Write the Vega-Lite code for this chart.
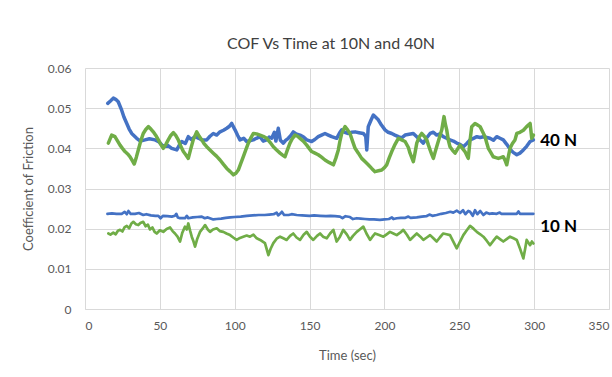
{
  "$schema": "https://vega.github.io/schema/vega-lite/v6.json",
  "width": 524,
  "height": 241,
  "autosize": {"type": "none"},
  "padding": {"left": 85, "top": 68, "right": 3, "bottom": 68},
  "background": "white",
  "title": {"text": "COF Vs Time at 10N and 40N", "font": "Lato", "fontSize": 16, "fontWeight": "normal", "color": "#404040", "anchor": "middle", "dx": -16, "offset": 10},
  "config": {
    "view": {"stroke": null},
    "axis": {"labelFont": "Lato", "titleFont": "Lato", "labelColor": "#595959", "titleColor": "#595959", "labelFontSize": 12, "titleFontSize": 13, "titleFontWeight": "normal", "gridColor": "#d9d9d9", "gridWidth": 1, "ticks": false}
  },
  "datasets": {
    "series": [
      {"sample":"A","load":"40 N","time":15.2,"cof":0.0512},{"sample":"A","load":"40 N","time":17,"cof":0.0518},{"sample":"A","load":"40 N","time":18.9,"cof":0.0525},{"sample":"A","load":"40 N","time":20.5,"cof":0.0522},{"sample":"A","load":"40 N","time":22.2,"cof":0.0516},{"sample":"A","load":"40 N","time":24.5,"cof":0.0495},{"sample":"A","load":"40 N","time":26,"cof":0.0478},{"sample":"A","load":"40 N","time":27.9,"cof":0.0462},{"sample":"A","load":"40 N","time":29.5,"cof":0.0448},{"sample":"A","load":"40 N","time":31.2,"cof":0.0437},{"sample":"A","load":"40 N","time":34.5,"cof":0.0425},{"sample":"A","load":"40 N","time":37,"cof":0.0418},{"sample":"A","load":"40 N","time":40.1,"cof":0.0421},{"sample":"A","load":"40 N","time":43,"cof":0.0424},{"sample":"A","load":"40 N","time":46.8,"cof":0.0421},{"sample":"A","load":"40 N","time":49.5,"cof":0.0416},{"sample":"A","load":"40 N","time":52.3,"cof":0.0404},{"sample":"A","load":"40 N","time":55,"cof":0.0408},{"sample":"A","load":"40 N","time":57.9,"cof":0.04},{"sample":"A","load":"40 N","time":61.3,"cof":0.0396},{"sample":"A","load":"40 N","time":63,"cof":0.0408},{"sample":"A","load":"40 N","time":64.6,"cof":0.0417},{"sample":"A","load":"40 N","time":67,"cof":0.0412},{"sample":"A","load":"40 N","time":69,"cof":0.0429},{"sample":"A","load":"40 N","time":71,"cof":0.0422},{"sample":"A","load":"40 N","time":73.5,"cof":0.0429},{"sample":"A","load":"40 N","time":76,"cof":0.0425},{"sample":"A","load":"40 N","time":78,"cof":0.0421},{"sample":"A","load":"40 N","time":81.3,"cof":0.0421},{"sample":"A","load":"40 N","time":83.5,"cof":0.043},{"sample":"A","load":"40 N","time":85.7,"cof":0.0437},{"sample":"A","load":"40 N","time":88,"cof":0.0433},{"sample":"A","load":"40 N","time":90.2,"cof":0.0441},{"sample":"A","load":"40 N","time":92.5,"cof":0.0445},{"sample":"A","load":"40 N","time":94.7,"cof":0.045},{"sample":"A","load":"40 N","time":96.5,"cof":0.0455},{"sample":"A","load":"40 N","time":98,"cof":0.0462},{"sample":"A","load":"40 N","time":100.2,"cof":0.0446},{"sample":"A","load":"40 N","time":102,"cof":0.0432},{"sample":"A","load":"40 N","time":103.5,"cof":0.0421},{"sample":"A","load":"40 N","time":106,"cof":0.0425},{"sample":"A","load":"40 N","time":108,"cof":0.0417},{"sample":"A","load":"40 N","time":110,"cof":0.0419},{"sample":"A","load":"40 N","time":112.4,"cof":0.0421},{"sample":"A","load":"40 N","time":114.5,"cof":0.0425},{"sample":"A","load":"40 N","time":116.9,"cof":0.0429},{"sample":"A","load":"40 N","time":119,"cof":0.0418},{"sample":"A","load":"40 N","time":121.4,"cof":0.0421},{"sample":"A","load":"40 N","time":123,"cof":0.0428},{"sample":"A","load":"40 N","time":124.7,"cof":0.0425},{"sample":"A","load":"40 N","time":126.5,"cof":0.044},{"sample":"A","load":"40 N","time":127.5,"cof":0.0418},{"sample":"A","load":"40 N","time":129.1,"cof":0.045},{"sample":"A","load":"40 N","time":130.5,"cof":0.042},{"sample":"A","load":"40 N","time":132.5,"cof":0.0413},{"sample":"A","load":"40 N","time":134,"cof":0.042},{"sample":"A","load":"40 N","time":135.8,"cof":0.0425},{"sample":"A","load":"40 N","time":137.5,"cof":0.0432},{"sample":"A","load":"40 N","time":139.1,"cof":0.0441},{"sample":"A","load":"40 N","time":141,"cof":0.0436},{"sample":"A","load":"40 N","time":143.6,"cof":0.0433},{"sample":"A","load":"40 N","time":146,"cof":0.0428},{"sample":"A","load":"40 N","time":148.1,"cof":0.0421},{"sample":"A","load":"40 N","time":151.4,"cof":0.0417},{"sample":"A","load":"40 N","time":153.5,"cof":0.0422},{"sample":"A","load":"40 N","time":155.8,"cof":0.0429},{"sample":"A","load":"40 N","time":158,"cof":0.0433},{"sample":"A","load":"40 N","time":160.3,"cof":0.0437},{"sample":"A","load":"40 N","time":162.5,"cof":0.0433},{"sample":"A","load":"40 N","time":164.8,"cof":0.0429},{"sample":"A","load":"40 N","time":168.1,"cof":0.0425},{"sample":"A","load":"40 N","time":170,"cof":0.0438},{"sample":"A","load":"40 N","time":171.5,"cof":0.0446},{"sample":"A","load":"40 N","time":173.5,"cof":0.044},{"sample":"A","load":"40 N","time":175.9,"cof":0.0437},{"sample":"A","load":"40 N","time":178,"cof":0.044},{"sample":"A","load":"40 N","time":180.4,"cof":0.0441},{"sample":"A","load":"40 N","time":183,"cof":0.0439},{"sample":"A","load":"40 N","time":185.9,"cof":0.0437},{"sample":"A","load":"40 N","time":187.5,"cof":0.043},{"sample":"A","load":"40 N","time":188.2,"cof":0.0396},{"sample":"A","load":"40 N","time":189.2,"cof":0.0454},{"sample":"A","load":"40 N","time":191,"cof":0.047},{"sample":"A","load":"40 N","time":192.6,"cof":0.0483},{"sample":"A","load":"40 N","time":194,"cof":0.0478},{"sample":"A","load":"40 N","time":195.9,"cof":0.0471},{"sample":"A","load":"40 N","time":198,"cof":0.0458},{"sample":"A","load":"40 N","time":200.4,"cof":0.0446},{"sample":"A","load":"40 N","time":202.5,"cof":0.044},{"sample":"A","load":"40 N","time":204.9,"cof":0.0437},{"sample":"A","load":"40 N","time":207,"cof":0.0433},{"sample":"A","load":"40 N","time":209.3,"cof":0.0429},{"sample":"A","load":"40 N","time":211.5,"cof":0.0426},{"sample":"A","load":"40 N","time":213.8,"cof":0.0433},{"sample":"A","load":"40 N","time":216.5,"cof":0.0435},{"sample":"A","load":"40 N","time":219.3,"cof":0.0437},{"sample":"A","load":"40 N","time":221.6,"cof":0.0429},{"sample":"A","load":"40 N","time":224,"cof":0.042},{"sample":"A","load":"40 N","time":226,"cof":0.0413},{"sample":"A","load":"40 N","time":228,"cof":0.0425},{"sample":"A","load":"40 N","time":230.5,"cof":0.0437},{"sample":"A","load":"40 N","time":232.7,"cof":0.044},{"sample":"A","load":"40 N","time":234.9,"cof":0.0433},{"sample":"A","load":"40 N","time":237,"cof":0.0436},{"sample":"A","load":"40 N","time":239.3,"cof":0.0429},{"sample":"A","load":"40 N","time":241.5,"cof":0.0425},{"sample":"A","load":"40 N","time":243.8,"cof":0.0421},{"sample":"A","load":"40 N","time":246,"cof":0.0418},{"sample":"A","load":"40 N","time":248.3,"cof":0.0413},{"sample":"A","load":"40 N","time":250.5,"cof":0.041},{"sample":"A","load":"40 N","time":252.7,"cof":0.0404},{"sample":"A","load":"40 N","time":255,"cof":0.0412},{"sample":"A","load":"40 N","time":257.2,"cof":0.0421},{"sample":"A","load":"40 N","time":259.5,"cof":0.0425},{"sample":"A","load":"40 N","time":261.7,"cof":0.0429},{"sample":"A","load":"40 N","time":264,"cof":0.0427},{"sample":"A","load":"40 N","time":266.1,"cof":0.0429},{"sample":"A","load":"40 N","time":268.3,"cof":0.0427},{"sample":"A","load":"40 N","time":270.5,"cof":0.0425},{"sample":"A","load":"40 N","time":272.8,"cof":0.042},{"sample":"A","load":"40 N","time":275,"cof":0.0429},{"sample":"A","load":"40 N","time":277.2,"cof":0.0425},{"sample":"A","load":"40 N","time":279.4,"cof":0.0421},{"sample":"A","load":"40 N","time":281.7,"cof":0.041},{"sample":"A","load":"40 N","time":283.9,"cof":0.0398},{"sample":"A","load":"40 N","time":286,"cof":0.039},{"sample":"A","load":"40 N","time":288.4,"cof":0.0384},{"sample":"A","load":"40 N","time":290.5,"cof":0.0388},{"sample":"A","load":"40 N","time":292.8,"cof":0.0396},{"sample":"A","load":"40 N","time":295,"cof":0.0405},{"sample":"A","load":"40 N","time":297.3,"cof":0.0417},{"sample":"A","load":"40 N","time":299.5,"cof":0.0421},
      {"sample":"B","load":"40 N","time":15.6,"cof":0.0413},{"sample":"B","load":"40 N","time":17.8,"cof":0.0433},{"sample":"B","load":"40 N","time":20,"cof":0.0429},{"sample":"B","load":"40 N","time":21.5,"cof":0.042},{"sample":"B","load":"40 N","time":23.4,"cof":0.0408},{"sample":"B","load":"40 N","time":25,"cof":0.04},{"sample":"B","load":"40 N","time":26.7,"cof":0.0392},{"sample":"B","load":"40 N","time":28.5,"cof":0.0386},{"sample":"B","load":"40 N","time":30.1,"cof":0.0379},{"sample":"B","load":"40 N","time":31.5,"cof":0.037},{"sample":"B","load":"40 N","time":32.9,"cof":0.0361},{"sample":"B","load":"40 N","time":34.3,"cof":0.0378},{"sample":"B","load":"40 N","time":35.6,"cof":0.0396},{"sample":"B","load":"40 N","time":37.2,"cof":0.0418},{"sample":"B","load":"40 N","time":38.9,"cof":0.0437},{"sample":"B","load":"40 N","time":40.6,"cof":0.0447},{"sample":"B","load":"40 N","time":42.3,"cof":0.0454},{"sample":"B","load":"40 N","time":44,"cof":0.0448},{"sample":"B","load":"40 N","time":45.6,"cof":0.0441},{"sample":"B","load":"40 N","time":47.3,"cof":0.0432},{"sample":"B","load":"40 N","time":49,"cof":0.0421},{"sample":"B","load":"40 N","time":50.6,"cof":0.041},{"sample":"B","load":"40 N","time":52.3,"cof":0.04},{"sample":"B","load":"40 N","time":54,"cof":0.041},{"sample":"B","load":"40 N","time":55.6,"cof":0.0421},{"sample":"B","load":"40 N","time":57.3,"cof":0.0432},{"sample":"B","load":"40 N","time":59,"cof":0.0439},{"sample":"B","load":"40 N","time":60.6,"cof":0.0432},{"sample":"B","load":"40 N","time":62.3,"cof":0.0421},{"sample":"B","load":"40 N","time":64,"cof":0.0405},{"sample":"B","load":"40 N","time":65.7,"cof":0.0392},{"sample":"B","load":"40 N","time":67.3,"cof":0.0384},{"sample":"B","load":"40 N","time":69,"cof":0.0375},{"sample":"B","load":"40 N","time":70.6,"cof":0.0398},{"sample":"B","load":"40 N","time":72.3,"cof":0.0421},{"sample":"B","load":"40 N","time":74.6,"cof":0.0441},{"sample":"B","load":"40 N","time":76.3,"cof":0.043},{"sample":"B","load":"40 N","time":78,"cof":0.0421},{"sample":"B","load":"40 N","time":79.5,"cof":0.0412},{"sample":"B","load":"40 N","time":81.3,"cof":0.0404},{"sample":"B","load":"40 N","time":83.5,"cof":0.0396},{"sample":"B","load":"40 N","time":85.7,"cof":0.0388},{"sample":"B","load":"40 N","time":88,"cof":0.038},{"sample":"B","load":"40 N","time":90.2,"cof":0.0371},{"sample":"B","load":"40 N","time":92.5,"cof":0.036},{"sample":"B","load":"40 N","time":94.7,"cof":0.035},{"sample":"B","load":"40 N","time":97,"cof":0.0342},{"sample":"B","load":"40 N","time":99.1,"cof":0.0334},{"sample":"B","load":"40 N","time":100.8,"cof":0.0338},{"sample":"B","load":"40 N","time":102.4,"cof":0.0346},{"sample":"B","load":"40 N","time":104,"cof":0.0362},{"sample":"B","load":"40 N","time":105.7,"cof":0.0379},{"sample":"B","load":"40 N","time":107.4,"cof":0.0396},{"sample":"B","load":"40 N","time":109.1,"cof":0.0413},{"sample":"B","load":"40 N","time":110.8,"cof":0.0426},{"sample":"B","load":"40 N","time":112.4,"cof":0.0437},{"sample":"B","load":"40 N","time":114.6,"cof":0.0436},{"sample":"B","load":"40 N","time":116.9,"cof":0.0433},{"sample":"B","load":"40 N","time":119,"cof":0.043},{"sample":"B","load":"40 N","time":121.4,"cof":0.0425},{"sample":"B","load":"40 N","time":123.6,"cof":0.0415},{"sample":"B","load":"40 N","time":125.8,"cof":0.0404},{"sample":"B","load":"40 N","time":128,"cof":0.0396},{"sample":"B","load":"40 N","time":130.3,"cof":0.0388},{"sample":"B","load":"40 N","time":132,"cof":0.0383},{"sample":"B","load":"40 N","time":133.6,"cof":0.0379},{"sample":"B","load":"40 N","time":135.2,"cof":0.0396},{"sample":"B","load":"40 N","time":136.9,"cof":0.0413},{"sample":"B","load":"40 N","time":138.6,"cof":0.0425},{"sample":"B","load":"40 N","time":140.3,"cof":0.0433},{"sample":"B","load":"40 N","time":142,"cof":0.043},{"sample":"B","load":"40 N","time":143.6,"cof":0.0425},{"sample":"B","load":"40 N","time":145.8,"cof":0.0418},{"sample":"B","load":"40 N","time":148.1,"cof":0.0408},{"sample":"B","load":"40 N","time":149.7,"cof":0.04},{"sample":"B","load":"40 N","time":151.4,"cof":0.0392},{"sample":"B","load":"40 N","time":153.6,"cof":0.0388},{"sample":"B","load":"40 N","time":155.8,"cof":0.0384},{"sample":"B","load":"40 N","time":158,"cof":0.0378},{"sample":"B","load":"40 N","time":160.3,"cof":0.0371},{"sample":"B","load":"40 N","time":163,"cof":0.0365},{"sample":"B","load":"40 N","time":165.9,"cof":0.0359},{"sample":"B","load":"40 N","time":167.5,"cof":0.0375},{"sample":"B","load":"40 N","time":169.2,"cof":0.0396},{"sample":"B","load":"40 N","time":170.3,"cof":0.0418},{"sample":"B","load":"40 N","time":171.5,"cof":0.0437},{"sample":"B","load":"40 N","time":172.6,"cof":0.0446},{"sample":"B","load":"40 N","time":173.7,"cof":0.0454},{"sample":"B","load":"40 N","time":175.4,"cof":0.0446},{"sample":"B","load":"40 N","time":177,"cof":0.0437},{"sample":"B","load":"40 N","time":178.7,"cof":0.0418},{"sample":"B","load":"40 N","time":180.4,"cof":0.04},{"sample":"B","load":"40 N","time":182.6,"cof":0.0388},{"sample":"B","load":"40 N","time":184.8,"cof":0.0375},{"sample":"B","load":"40 N","time":187,"cof":0.0367},{"sample":"B","load":"40 N","time":189.2,"cof":0.0359},{"sample":"B","load":"40 N","time":191.5,"cof":0.035},{"sample":"B","load":"40 N","time":193.7,"cof":0.0342},{"sample":"B","load":"40 N","time":196,"cof":0.0344},{"sample":"B","load":"40 N","time":198.2,"cof":0.0346},{"sample":"B","load":"40 N","time":200,"cof":0.0352},{"sample":"B","load":"40 N","time":201.5,"cof":0.0359},{"sample":"B","load":"40 N","time":203.2,"cof":0.0376},{"sample":"B","load":"40 N","time":204.9,"cof":0.0392},{"sample":"B","load":"40 N","time":207.1,"cof":0.041},{"sample":"B","load":"40 N","time":209.3,"cof":0.0425},{"sample":"B","load":"40 N","time":211.5,"cof":0.0421},{"sample":"B","load":"40 N","time":213.8,"cof":0.0417},{"sample":"B","load":"40 N","time":216,"cof":0.0402},{"sample":"B","load":"40 N","time":217.1,"cof":0.0388},{"sample":"B","load":"40 N","time":219.3,"cof":0.0367},{"sample":"B","load":"40 N","time":220.5,"cof":0.039},{"sample":"B","load":"40 N","time":221.6,"cof":0.0413},{"sample":"B","load":"40 N","time":223.2,"cof":0.0428},{"sample":"B","load":"40 N","time":224.9,"cof":0.0437},{"sample":"B","load":"40 N","time":226.6,"cof":0.043},{"sample":"B","load":"40 N","time":228.3,"cof":0.0421},{"sample":"B","load":"40 N","time":229.4,"cof":0.0408},{"sample":"B","load":"40 N","time":230.5,"cof":0.0396},{"sample":"B","load":"40 N","time":231.6,"cof":0.0385},{"sample":"B","load":"40 N","time":232.7,"cof":0.0375},{"sample":"B","load":"40 N","time":233.8,"cof":0.039},{"sample":"B","load":"40 N","time":234.9,"cof":0.0404},{"sample":"B","load":"40 N","time":236.6,"cof":0.0425},{"sample":"B","load":"40 N","time":238.3,"cof":0.0446},{"sample":"B","load":"40 N","time":239.8,"cof":0.0479},{"sample":"B","load":"40 N","time":240.7,"cof":0.046},{"sample":"B","load":"40 N","time":241.6,"cof":0.0446},{"sample":"B","load":"40 N","time":242.7,"cof":0.042},{"sample":"B","load":"40 N","time":243.8,"cof":0.0404},{"sample":"B","load":"40 N","time":245.5,"cof":0.0395},{"sample":"B","load":"40 N","time":247.2,"cof":0.0388},{"sample":"B","load":"40 N","time":248.8,"cof":0.0398},{"sample":"B","load":"40 N","time":250.5,"cof":0.0408},{"sample":"B","load":"40 N","time":252.1,"cof":0.04},{"sample":"B","load":"40 N","time":253.8,"cof":0.0392},{"sample":"B","load":"40 N","time":255,"cof":0.0383},{"sample":"B","load":"40 N","time":256,"cof":0.0375},{"sample":"B","load":"40 N","time":257.2,"cof":0.042},{"sample":"B","load":"40 N","time":258.3,"cof":0.0454},{"sample":"B","load":"40 N","time":260.5,"cof":0.0462},{"sample":"B","load":"40 N","time":262.2,"cof":0.0458},{"sample":"B","load":"40 N","time":263.9,"cof":0.0454},{"sample":"B","load":"40 N","time":265.5,"cof":0.0442},{"sample":"B","load":"40 N","time":267.2,"cof":0.0429},{"sample":"B","load":"40 N","time":268.3,"cof":0.0414},{"sample":"B","load":"40 N","time":269.4,"cof":0.04},{"sample":"B","load":"40 N","time":271,"cof":0.039},{"sample":"B","load":"40 N","time":272.7,"cof":0.0379},{"sample":"B","load":"40 N","time":274.4,"cof":0.0377},{"sample":"B","load":"40 N","time":276.1,"cof":0.0375},{"sample":"B","load":"40 N","time":277.7,"cof":0.0377},{"sample":"B","load":"40 N","time":279.4,"cof":0.0379},{"sample":"B","load":"40 N","time":280.6,"cof":0.037},{"sample":"B","load":"40 N","time":281.7,"cof":0.0359},{"sample":"B","load":"40 N","time":282.8,"cof":0.038},{"sample":"B","load":"40 N","time":283.9,"cof":0.04},{"sample":"B","load":"40 N","time":285.5,"cof":0.0412},{"sample":"B","load":"40 N","time":287.2,"cof":0.0421},{"sample":"B","load":"40 N","time":288.4,"cof":0.0437},{"sample":"B","load":"40 N","time":290.5,"cof":0.044},{"sample":"B","load":"40 N","time":292.8,"cof":0.0445},{"sample":"B","load":"40 N","time":295,"cof":0.0454},{"sample":"B","load":"40 N","time":297.3,"cof":0.0462},{"sample":"B","load":"40 N","time":298.4,"cof":0.0425},{"sample":"B","load":"40 N","time":299.5,"cof":0.0433},
      {"sample":"A","load":"10 N","time":15,"cof":0.0237},{"sample":"A","load":"10 N","time":18,"cof":0.0238},{"sample":"A","load":"10 N","time":21,"cof":0.0237},{"sample":"A","load":"10 N","time":24.5,"cof":0.0237},{"sample":"A","load":"10 N","time":26.5,"cof":0.0242},{"sample":"A","load":"10 N","time":27.9,"cof":0.0236},{"sample":"A","load":"10 N","time":29,"cof":0.0244},{"sample":"A","load":"10 N","time":30.5,"cof":0.0237},{"sample":"A","load":"10 N","time":33.4,"cof":0.0237},{"sample":"A","load":"10 N","time":36,"cof":0.0239},{"sample":"A","load":"10 N","time":38.9,"cof":0.0234},{"sample":"A","load":"10 N","time":41,"cof":0.0236},{"sample":"A","load":"10 N","time":44,"cof":0.0233},{"sample":"A","load":"10 N","time":47,"cof":0.0232},{"sample":"A","load":"10 N","time":49,"cof":0.0232},{"sample":"A","load":"10 N","time":50.5,"cof":0.0226},{"sample":"A","load":"10 N","time":52,"cof":0.0232},{"sample":"A","load":"10 N","time":55,"cof":0.0231},{"sample":"A","load":"10 N","time":58,"cof":0.023},{"sample":"A","load":"10 N","time":60.1,"cof":0.0232},{"sample":"A","load":"10 N","time":61,"cof":0.0237},{"sample":"A","load":"10 N","time":62,"cof":0.0228},{"sample":"A","load":"10 N","time":63.5,"cof":0.0226},{"sample":"A","load":"10 N","time":66.8,"cof":0.0226},{"sample":"A","load":"10 N","time":68,"cof":0.0232},{"sample":"A","load":"10 N","time":69,"cof":0.0226},{"sample":"A","load":"10 N","time":72,"cof":0.0228},{"sample":"A","load":"10 N","time":75,"cof":0.0229},{"sample":"A","load":"10 N","time":78,"cof":0.023},{"sample":"A","load":"10 N","time":80,"cof":0.0226},{"sample":"A","load":"10 N","time":82,"cof":0.0228},{"sample":"A","load":"10 N","time":85.7,"cof":0.0223},{"sample":"A","load":"10 N","time":88,"cof":0.0224},{"sample":"A","load":"10 N","time":91,"cof":0.0225},{"sample":"A","load":"10 N","time":94,"cof":0.0227},{"sample":"A","load":"10 N","time":96.9,"cof":0.0228},{"sample":"A","load":"10 N","time":100,"cof":0.0229},{"sample":"A","load":"10 N","time":104,"cof":0.023},{"sample":"A","load":"10 N","time":108,"cof":0.0232},{"sample":"A","load":"10 N","time":112,"cof":0.0233},{"sample":"A","load":"10 N","time":116,"cof":0.0234},{"sample":"A","load":"10 N","time":120,"cof":0.0234},{"sample":"A","load":"10 N","time":123,"cof":0.0235},{"sample":"A","load":"10 N","time":126,"cof":0.0236},{"sample":"A","load":"10 N","time":128,"cof":0.024},{"sample":"A","load":"10 N","time":129,"cof":0.0233},{"sample":"A","load":"10 N","time":130.3,"cof":0.0237},{"sample":"A","load":"10 N","time":131.5,"cof":0.0242},{"sample":"A","load":"10 N","time":133,"cof":0.0234},{"sample":"A","load":"10 N","time":136,"cof":0.0234},{"sample":"A","load":"10 N","time":138,"cof":0.0236},{"sample":"A","load":"10 N","time":141.4,"cof":0.0234},{"sample":"A","load":"10 N","time":145,"cof":0.0233},{"sample":"A","load":"10 N","time":150,"cof":0.0232},{"sample":"A","load":"10 N","time":153,"cof":0.0233},{"sample":"A","load":"10 N","time":157,"cof":0.0232},{"sample":"A","load":"10 N","time":161,"cof":0.0231},{"sample":"A","load":"10 N","time":164,"cof":0.0232},{"sample":"A","load":"10 N","time":167,"cof":0.0231},{"sample":"A","load":"10 N","time":170.3,"cof":0.023},{"sample":"A","load":"10 N","time":172,"cof":0.0226},{"sample":"A","load":"10 N","time":174,"cof":0.0231},{"sample":"A","load":"10 N","time":177,"cof":0.0229},{"sample":"A","load":"10 N","time":179,"cof":0.0224},{"sample":"A","load":"10 N","time":181.5,"cof":0.0226},{"sample":"A","load":"10 N","time":184,"cof":0.0225},{"sample":"A","load":"10 N","time":187,"cof":0.0224},{"sample":"A","load":"10 N","time":190,"cof":0.0223},{"sample":"A","load":"10 N","time":193,"cof":0.0223},{"sample":"A","load":"10 N","time":197,"cof":0.0222},{"sample":"A","load":"10 N","time":200,"cof":0.0223},{"sample":"A","load":"10 N","time":203,"cof":0.0224},{"sample":"A","load":"10 N","time":205,"cof":0.0228},{"sample":"A","load":"10 N","time":206,"cof":0.0224},{"sample":"A","load":"10 N","time":208.2,"cof":0.0226},{"sample":"A","load":"10 N","time":211,"cof":0.0227},{"sample":"A","load":"10 N","time":214,"cof":0.0227},{"sample":"A","load":"10 N","time":216,"cof":0.023},{"sample":"A","load":"10 N","time":217.5,"cof":0.0227},{"sample":"A","load":"10 N","time":221.6,"cof":0.0228},{"sample":"A","load":"10 N","time":225,"cof":0.023},{"sample":"A","load":"10 N","time":228,"cof":0.0231},{"sample":"A","load":"10 N","time":230,"cof":0.0235},{"sample":"A","load":"10 N","time":232,"cof":0.0232},{"sample":"A","load":"10 N","time":234.9,"cof":0.0234},{"sample":"A","load":"10 N","time":238,"cof":0.0237},{"sample":"A","load":"10 N","time":241,"cof":0.0239},{"sample":"A","load":"10 N","time":244,"cof":0.0242},{"sample":"A","load":"10 N","time":246,"cof":0.024},{"sample":"A","load":"10 N","time":248.3,"cof":0.0245},{"sample":"A","load":"10 N","time":250.5,"cof":0.0239},{"sample":"A","load":"10 N","time":252.5,"cof":0.0246},{"sample":"A","load":"10 N","time":254,"cof":0.0236},{"sample":"A","load":"10 N","time":256,"cof":0.0244},{"sample":"A","load":"10 N","time":257.2,"cof":0.0242},{"sample":"A","load":"10 N","time":259,"cof":0.0232},{"sample":"A","load":"10 N","time":260.5,"cof":0.0246},{"sample":"A","load":"10 N","time":262,"cof":0.0236},{"sample":"A","load":"10 N","time":264,"cof":0.0244},{"sample":"A","load":"10 N","time":266.1,"cof":0.0234},{"sample":"A","load":"10 N","time":268,"cof":0.024},{"sample":"A","load":"10 N","time":270,"cof":0.0237},{"sample":"A","load":"10 N","time":272,"cof":0.0238},{"sample":"A","load":"10 N","time":275,"cof":0.0237},{"sample":"A","load":"10 N","time":277,"cof":0.024},{"sample":"A","load":"10 N","time":278,"cof":0.0237},{"sample":"A","load":"10 N","time":282,"cof":0.0237},{"sample":"A","load":"10 N","time":285,"cof":0.0237},{"sample":"A","load":"10 N","time":288.4,"cof":0.0237},{"sample":"A","load":"10 N","time":289.5,"cof":0.0243},{"sample":"A","load":"10 N","time":290.5,"cof":0.0237},{"sample":"A","load":"10 N","time":294,"cof":0.0237},{"sample":"A","load":"10 N","time":297,"cof":0.0237},{"sample":"A","load":"10 N","time":299.5,"cof":0.0237},
      {"sample":"B","load":"10 N","time":15.6,"cof":0.0188},{"sample":"B","load":"10 N","time":17,"cof":0.0185},{"sample":"B","load":"10 N","time":18.9,"cof":0.019},{"sample":"B","load":"10 N","time":20.5,"cof":0.0186},{"sample":"B","load":"10 N","time":22,"cof":0.0195},{"sample":"B","load":"10 N","time":23.4,"cof":0.0197},{"sample":"B","load":"10 N","time":25,"cof":0.0193},{"sample":"B","load":"10 N","time":26.5,"cof":0.0204},{"sample":"B","load":"10 N","time":27.9,"cof":0.0207},{"sample":"B","load":"10 N","time":29.5,"cof":0.0201},{"sample":"B","load":"10 N","time":31,"cof":0.0213},{"sample":"B","load":"10 N","time":32.3,"cof":0.0217},{"sample":"B","load":"10 N","time":34,"cof":0.0211},{"sample":"B","load":"10 N","time":35.6,"cof":0.0209},{"sample":"B","load":"10 N","time":37,"cof":0.0214},{"sample":"B","load":"10 N","time":38.9,"cof":0.0217},{"sample":"B","load":"10 N","time":40.5,"cof":0.0206},{"sample":"B","load":"10 N","time":42,"cof":0.021},{"sample":"B","load":"10 N","time":43.4,"cof":0.0198},{"sample":"B","load":"10 N","time":45,"cof":0.0203},{"sample":"B","load":"10 N","time":46.5,"cof":0.0192},{"sample":"B","load":"10 N","time":47.9,"cof":0.0188},{"sample":"B","load":"10 N","time":50,"cof":0.0196},{"sample":"B","load":"10 N","time":52.3,"cof":0.0192},{"sample":"B","load":"10 N","time":54.5,"cof":0.0199},{"sample":"B","load":"10 N","time":56.8,"cof":0.0203},{"sample":"B","load":"10 N","time":58.5,"cof":0.0194},{"sample":"B","load":"10 N","time":60.1,"cof":0.0188},{"sample":"B","load":"10 N","time":61.8,"cof":0.018},{"sample":"B","load":"10 N","time":63.5,"cof":0.0168},{"sample":"B","load":"10 N","time":65,"cof":0.019},{"sample":"B","load":"10 N","time":66.8,"cof":0.0205},{"sample":"B","load":"10 N","time":68,"cof":0.0198},{"sample":"B","load":"10 N","time":69,"cof":0.0213},{"sample":"B","load":"10 N","time":70.2,"cof":0.0195},{"sample":"B","load":"10 N","time":71.3,"cof":0.018},{"sample":"B","load":"10 N","time":72.5,"cof":0.0168},{"sample":"B","load":"10 N","time":73.5,"cof":0.0155},{"sample":"B","load":"10 N","time":75,"cof":0.0175},{"sample":"B","load":"10 N","time":76.8,"cof":0.0192},{"sample":"B","load":"10 N","time":78.5,"cof":0.02},{"sample":"B","load":"10 N","time":80.2,"cof":0.0209},{"sample":"B","load":"10 N","time":82,"cof":0.0198},{"sample":"B","load":"10 N","time":83.5,"cof":0.0192},{"sample":"B","load":"10 N","time":85.5,"cof":0.0198},{"sample":"B","load":"10 N","time":88,"cof":0.0201},{"sample":"B","load":"10 N","time":90,"cof":0.0194},{"sample":"B","load":"10 N","time":92.4,"cof":0.0192},{"sample":"B","load":"10 N","time":94.5,"cof":0.0188},{"sample":"B","load":"10 N","time":96.9,"cof":0.0184},{"sample":"B","load":"10 N","time":99,"cof":0.0178},{"sample":"B","load":"10 N","time":101.3,"cof":0.0172},{"sample":"B","load":"10 N","time":103.5,"cof":0.0177},{"sample":"B","load":"10 N","time":105.7,"cof":0.018},{"sample":"B","load":"10 N","time":108,"cof":0.0183},{"sample":"B","load":"10 N","time":110.2,"cof":0.018},{"sample":"B","load":"10 N","time":112.5,"cof":0.0185},{"sample":"B","load":"10 N","time":114.7,"cof":0.0176},{"sample":"B","load":"10 N","time":117,"cof":0.0172},{"sample":"B","load":"10 N","time":120.2,"cof":0.0164},{"sample":"B","load":"10 N","time":121.3,"cof":0.015},{"sample":"B","load":"10 N","time":122.5,"cof":0.0134},{"sample":"B","load":"10 N","time":124,"cof":0.015},{"sample":"B","load":"10 N","time":125.8,"cof":0.0164},{"sample":"B","load":"10 N","time":128,"cof":0.0175},{"sample":"B","load":"10 N","time":130.3,"cof":0.018},{"sample":"B","load":"10 N","time":132.5,"cof":0.0176},{"sample":"B","load":"10 N","time":134.7,"cof":0.0172},{"sample":"B","load":"10 N","time":137,"cof":0.0182},{"sample":"B","load":"10 N","time":139.1,"cof":0.0188},{"sample":"B","load":"10 N","time":141.3,"cof":0.0178},{"sample":"B","load":"10 N","time":143.6,"cof":0.0172},{"sample":"B","load":"10 N","time":146,"cof":0.0185},{"sample":"B","load":"10 N","time":148.1,"cof":0.0192},{"sample":"B","load":"10 N","time":150.3,"cof":0.018},{"sample":"B","load":"10 N","time":152.5,"cof":0.0172},{"sample":"B","load":"10 N","time":155,"cof":0.0182},{"sample":"B","load":"10 N","time":157,"cof":0.0188},{"sample":"B","load":"10 N","time":159,"cof":0.018},{"sample":"B","load":"10 N","time":161.5,"cof":0.0176},{"sample":"B","load":"10 N","time":163.7,"cof":0.0188},{"sample":"B","load":"10 N","time":165.9,"cof":0.0197},{"sample":"B","load":"10 N","time":168.1,"cof":0.0168},{"sample":"B","load":"10 N","time":170.3,"cof":0.018},{"sample":"B","load":"10 N","time":172.5,"cof":0.0197},{"sample":"B","load":"10 N","time":175,"cof":0.0185},{"sample":"B","load":"10 N","time":177,"cof":0.0172},{"sample":"B","load":"10 N","time":179,"cof":0.0182},{"sample":"B","load":"10 N","time":181.5,"cof":0.0192},{"sample":"B","load":"10 N","time":183.5,"cof":0.0198},{"sample":"B","load":"10 N","time":185.9,"cof":0.0205},{"sample":"B","load":"10 N","time":188,"cof":0.0188},{"sample":"B","load":"10 N","time":190.4,"cof":0.0172},{"sample":"B","load":"10 N","time":192,"cof":0.018},{"sample":"B","load":"10 N","time":193.7,"cof":0.0188},{"sample":"B","load":"10 N","time":196.5,"cof":0.0184},{"sample":"B","load":"10 N","time":199.3,"cof":0.018},{"sample":"B","load":"10 N","time":201.5,"cof":0.0186},{"sample":"B","load":"10 N","time":203.7,"cof":0.0192},{"sample":"B","load":"10 N","time":206,"cof":0.0188},{"sample":"B","load":"10 N","time":208.2,"cof":0.0184},{"sample":"B","load":"10 N","time":210.5,"cof":0.019},{"sample":"B","load":"10 N","time":212.6,"cof":0.0197},{"sample":"B","load":"10 N","time":215,"cof":0.0185},{"sample":"B","load":"10 N","time":217.1,"cof":0.0172},{"sample":"B","load":"10 N","time":219.3,"cof":0.018},{"sample":"B","load":"10 N","time":221.6,"cof":0.0188},{"sample":"B","load":"10 N","time":224,"cof":0.018},{"sample":"B","load":"10 N","time":226,"cof":0.0172},{"sample":"B","load":"10 N","time":228.3,"cof":0.0178},{"sample":"B","load":"10 N","time":230.5,"cof":0.0184},{"sample":"B","load":"10 N","time":232.7,"cof":0.0176},{"sample":"B","load":"10 N","time":234.9,"cof":0.0168},{"sample":"B","load":"10 N","time":237,"cof":0.0178},{"sample":"B","load":"10 N","time":239.3,"cof":0.0188},{"sample":"B","load":"10 N","time":241.5,"cof":0.0186},{"sample":"B","load":"10 N","time":243.8,"cof":0.0184},{"sample":"B","load":"10 N","time":246,"cof":0.0168},{"sample":"B","load":"10 N","time":248.3,"cof":0.0151},{"sample":"B","load":"10 N","time":250.5,"cof":0.0168},{"sample":"B","load":"10 N","time":252.7,"cof":0.0184},{"sample":"B","load":"10 N","time":255,"cof":0.0196},{"sample":"B","load":"10 N","time":257.2,"cof":0.0207},{"sample":"B","load":"10 N","time":259.5,"cof":0.02},{"sample":"B","load":"10 N","time":261.7,"cof":0.0192},{"sample":"B","load":"10 N","time":264,"cof":0.0186},{"sample":"B","load":"10 N","time":266.1,"cof":0.018},{"sample":"B","load":"10 N","time":268.3,"cof":0.017},{"sample":"B","load":"10 N","time":270.5,"cof":0.0159},{"sample":"B","load":"10 N","time":272.8,"cof":0.017},{"sample":"B","load":"10 N","time":275,"cof":0.018},{"sample":"B","load":"10 N","time":277.2,"cof":0.0174},{"sample":"B","load":"10 N","time":279.4,"cof":0.0168},{"sample":"B","load":"10 N","time":281.6,"cof":0.0174},{"sample":"B","load":"10 N","time":283.9,"cof":0.018},{"sample":"B","load":"10 N","time":286.2,"cof":0.0176},{"sample":"B","load":"10 N","time":288.4,"cof":0.0172},{"sample":"B","load":"10 N","time":290.6,"cof":0.015},{"sample":"B","load":"10 N","time":292.8,"cof":0.0126},{"sample":"B","load":"10 N","time":294,"cof":0.015},{"sample":"B","load":"10 N","time":295,"cof":0.0172},{"sample":"B","load":"10 N","time":296.2,"cof":0.0165},{"sample":"B","load":"10 N","time":297.3,"cof":0.0159},{"sample":"B","load":"10 N","time":298.5,"cof":0.0168},{"sample":"B","load":"10 N","time":299.5,"cof":0.0163}
    ],
    "labels": [
      {"time": 304, "cof": 0.0418, "label": "40 N"},
      {"time": 304, "cof": 0.0203, "label": "10 N"}
    ]
  },
  "layer": [
    {
      "data": {"name": "series"},
      "mark": {"type": "line", "strokeJoin": "round", "strokeCap": "round", "interpolate": "linear"},
      "encoding": {
        "x": {"field": "time", "type": "quantitative", "scale": {"domain": [0, 350], "nice": false},
              "axis": {"title": "Time (sec)", "values": [0, 50, 100, 150, 200, 250, 300, 350], "grid": true, "domainColor": "#d9d9d9", "labelPadding": 11, "titlePadding": 18}},
        "y": {"field": "cof", "type": "quantitative", "scale": {"domain": [0, 0.06], "nice": false},
              "axis": {"title": "Coefficient of Friction", "values": [0, 0.01, 0.02, 0.03, 0.04, 0.05, 0.06], "format": ".2~f", "grid": true, "domain": false, "labelPadding": 14, "titlePadding": 12}},
        "color": {"field": "sample", "type": "nominal", "scale": {"domain": ["A", "B"], "range": ["#4472C4", "#70AD47"]}, "legend": null},
        "detail": {"field": "load", "type": "nominal"},
        "strokeWidth": {"field": "load", "type": "nominal", "scale": {"domain": ["10 N", "40 N"], "range": [2.7, 3.5]}, "legend": null}
      }
    },
    {
      "data": {"name": "labels"},
      "mark": {"type": "text", "align": "left", "baseline": "middle", "font": "Lato", "fontSize": 17, "fontWeight": "bold", "color": "#000000"},
      "encoding": {
        "x": {"field": "time", "type": "quantitative"},
        "y": {"field": "cof", "type": "quantitative"},
        "text": {"field": "label"}
      }
    }
  ]
}
